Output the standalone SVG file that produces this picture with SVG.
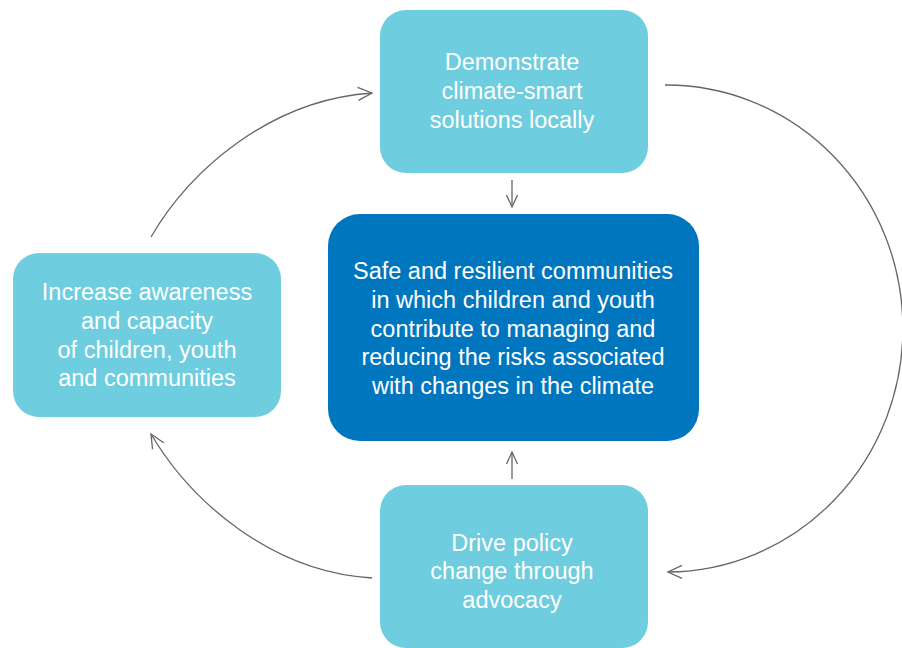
<svg xmlns="http://www.w3.org/2000/svg" width="902" height="648" viewBox="0 0 902 648">
<style>
.light{fill:#6fcde0}
.dark{fill:#0076be}
.t{font-family:"Liberation Sans",Arial,sans-serif;font-size:23.5px;fill:#ffffff;text-anchor:middle}
.c{fill:none;stroke:#666666;stroke-width:1.3}
</style>
<defs>
<marker id="ah" markerUnits="userSpaceOnUse" markerWidth="20" markerHeight="20" viewBox="0 0 20 20" refX="16" refY="10" orient="auto">
<path d="M2,3.5 L16,10 L2,16.5" fill="none" stroke="#666666" stroke-width="1.3"/>
</marker>
<marker id="ahs" markerUnits="userSpaceOnUse" markerWidth="20" markerHeight="20" viewBox="0 0 20 20" refX="16" refY="10" orient="auto">
<path d="M4,4.5 L16,10 L4,15.5" fill="none" stroke="#666666" stroke-width="1.3"/>
</marker>
</defs>
<g id="connectors">
<path class="c" d="M665,85 A236,243 0 0 1 668,572" marker-end="url(#ah)"/>
<path class="c" d="M151,237 C190,170 270,100 372,93" marker-end="url(#ah)"/>
<path class="c" d="M372,578 C270,572 190,500 151,434" marker-end="url(#ah)"/>
<path class="c" d="M512,180 L512,207" marker-end="url(#ahs)"/>
<path class="c" d="M512,479 L512,452" marker-end="url(#ahs)"/>
</g>
<g id="node-demonstrate">
<rect class="light" x="380" y="10" width="268" height="163" rx="26"/>
<text class="t" x="512" y="70">Demonstrate</text>
<text class="t" x="512" y="99">climate-smart</text>
<text class="t" x="512" y="128">solutions locally</text>
</g>
<g id="node-awareness">
<rect class="light" x="13" y="253" width="268" height="164" rx="26"/>
<text class="t" x="147" y="300">Increase awareness</text>
<text class="t" x="147" y="329">and capacity</text>
<text class="t" x="147" y="358">of children, youth</text>
<text class="t" x="147" y="386">and communities</text>
</g>
<g id="node-center">
<rect class="dark" x="328" y="214" width="371" height="227" rx="32"/>
<text class="t" x="513" y="279">Safe and resilient communities</text>
<text class="t" x="513" y="308">in which children and youth</text>
<text class="t" x="513" y="337">contribute to managing and</text>
<text class="t" x="513" y="365">reducing the risks associated</text>
<text class="t" x="513" y="394">with changes in the climate</text>
</g>
<g id="node-policy">
<rect class="light" x="380" y="485" width="268" height="163" rx="26"/>
<text class="t" x="512" y="551">Drive policy</text>
<text class="t" x="512" y="579">change through</text>
<text class="t" x="512" y="608">advocacy</text>
</g>
</svg>
